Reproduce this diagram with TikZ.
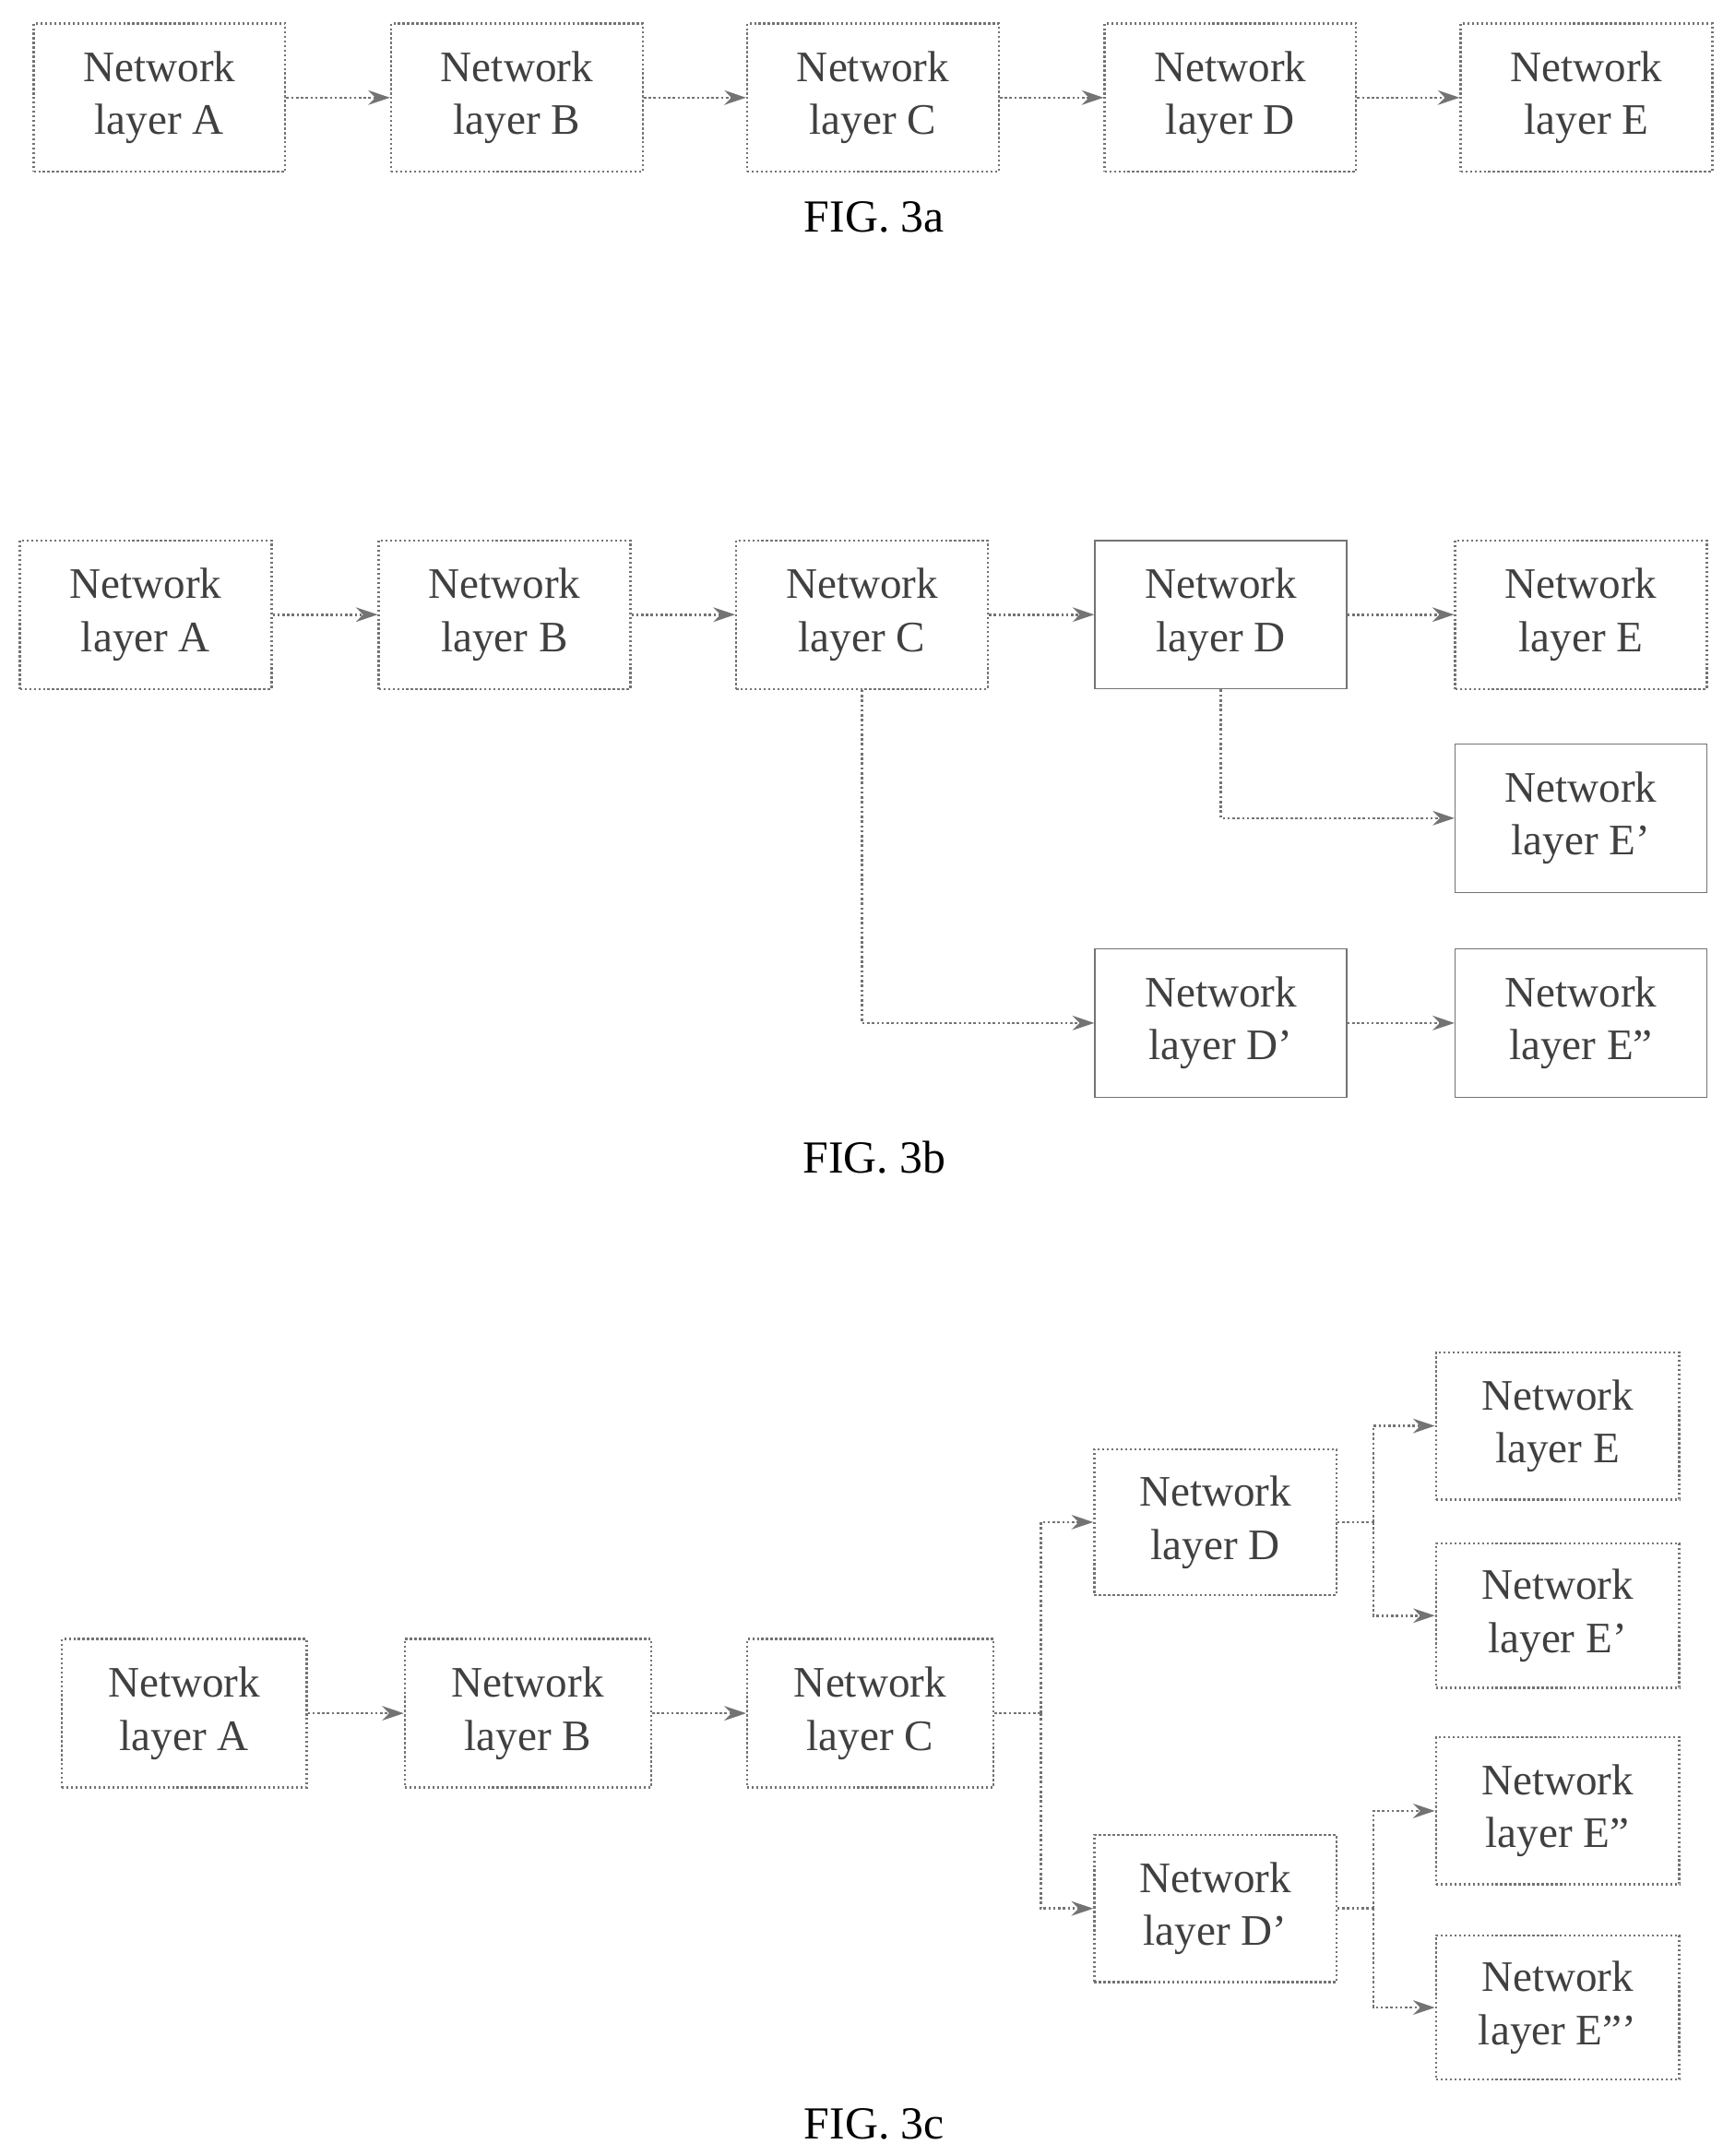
\documentclass[tikz,border=0pt]{standalone}
\usepackage{fontspec}
\setmainfont{Liberation Serif}
\usetikzlibrary{arrows.meta}
\begin{document}
\begin{tikzpicture}[x=0.02cm,y=-0.02cm,
  box/.style={draw=black!55,densely dotted,line width=0.9pt,minimum width=3.66cm,minimum height=2.16cm,inner sep=0pt,align=center,font=\fontsize{18}{22}\selectfont,text=black!75},
  sbox/.style={box,solid,line width=0.6pt},
  arr/.style={draw=black!55,densely dotted,line width=1pt,-{Stealth[length=9pt,width=6pt]}},
  ln/.style={draw=black!55,densely dotted,line width=1pt},
  figcap/.style={font=\fontsize{19}{21}\selectfont}]
\useasboundingbox (0,0) rectangle (1262,1568);
% FIG 3a
\node[box] (a1) at (116,71) {Network\\layer A};
\node[box] (b1) at (376,71) {Network\\layer B};
\node[box] (c1) at (635,71) {Network\\layer C};
\node[box] (d1) at (895,71) {Network\\layer D};
\node[box] (e1) at (1154,71) {Network\\layer E};
\draw[arr] (a1) -- (b1);
\draw[arr] (b1) -- (c1);
\draw[arr] (c1) -- (d1);
\draw[arr] (d1) -- (e1);
\node[figcap] (f1) at (636,158) {FIG. 3a};
% FIG 3b
\node[box] (a2) at (106,447) {Network\\layer A};
\node[box] (b2) at (367,447) {Network\\layer B};
\node[box] (c2) at (627,447) {Network\\layer C};
\node[sbox] (d2) at (888,447) {Network\\layer D};
\node[box] (e2) at (1150,447) {Network\\layer E};
\node[sbox] (ep2) at (1150,595) {Network\\layer E'};
\node[sbox] (dp2) at (888,744) {Network\\layer D'};
\node[sbox] (epp2) at (1150,744) {Network\\layer E''};
\draw[arr] (a2) -- (b2);
\draw[arr] (b2) -- (c2);
\draw[arr] (c2) -- (d2);
\draw[arr] (d2) -- (e2);
\draw[arr] (d2.south) |- (ep2.west);
\draw[arr] (c2.south) |- (dp2.west);
\draw[arr] (dp2) -- (epp2);
\node[figcap] (f2) at (636,842) {FIG. 3b};
% FIG 3c
\node[box,minimum width=3.56cm] (a3) at (134,1246) {Network\\layer A};
\node[box,minimum width=3.58cm] (b3) at (384,1246) {Network\\layer B};
\node[box,minimum width=3.58cm] (c3) at (633,1246) {Network\\layer C};
\node[box,minimum width=3.52cm,minimum height=2.12cm] (d3) at (884,1107) {Network\\layer D};
\node[box,minimum width=3.52cm,minimum height=2.14cm] (dp3) at (884,1388) {Network\\layer D'};
\node[box,minimum width=3.54cm,minimum height=2.14cm] (e3) at (1133,1037) {Network\\layer E};
\node[box,minimum width=3.54cm,minimum height=2.1cm] (ep3) at (1133,1175) {Network\\layer E'};
\node[box,minimum width=3.54cm,minimum height=2.14cm] (epp3) at (1133,1317) {Network\\layer E''};
\node[box,minimum width=3.54cm,minimum height=2.1cm] (eppp3) at (1133,1460) {Network\\layer E'''};
\coordinate (j1) at (757,1246);
\coordinate (j2) at (999,1107);
\coordinate (j3) at (999,1388);
\draw[arr] (a3) -- (b3);
\draw[arr] (b3) -- (c3);
\draw[ln] (c3.east) -- (j1);
\draw[arr] (j1) |- (d3.west);
\draw[arr] (j1) |- (dp3.west);
\draw[ln] (d3.east) -- (j2);
\draw[arr] (j2) |- (e3.west);
\draw[arr] (j2) |- (ep3.west);
\draw[ln] (dp3.east) -- (j3);
\draw[arr] (j3) |- (epp3.west);
\draw[arr] (j3) |- (eppp3.west);
\node[figcap] (f3) at (636,1545) {FIG. 3c};
\end{tikzpicture}
\end{document}
